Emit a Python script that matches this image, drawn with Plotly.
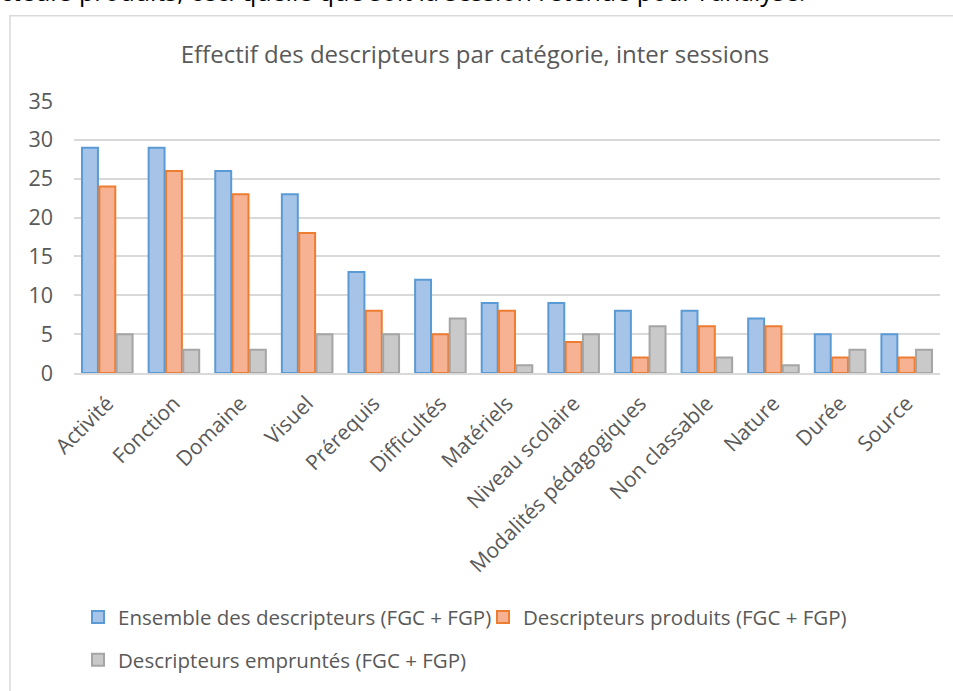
import plotly.graph_objects as go

categories = ["Activité", "Fonction", "Domaine", "Visuel", "Prérequis", "Difficultés",
              "Matériels", "Niveau scolaire", "Modalités pédagogiques", "Non classable",
              "Nature", "Durée", "Source"]
ensemble = [29, 29, 26, 23, 13, 12, 9, 9, 8, 8, 7, 5, 5]
produits = [24, 26, 23, 18, 8, 5, 8, 4, 2, 6, 6, 2, 2]
empruntes = [5, 3, 3, 5, 5, 7, 1, 5, 6, 2, 1, 3, 3]
y_ticks = [0, 5, 10, 15, 20, 25, 30, 35]

series_names = ["Ensemble des descripteurs (FGC + FGP)",
                "Descripteurs produits (FGC + FGP)",
                "Descripteurs empruntés (FGC + FGP)"]

FONT = "Open Sans"
GREY_TEXT = "#595959"
W, H = 953, 691
ML, MR, MT, MB = 74, 13, 101, 316
PW = W - ML - MR
PH = H - MT - MB

fig = go.Figure()
styles = [("#a6c3e8", "#5b9bd5", "legend"),
          ("#f6b293", "#ed7d31", "legend"),
          ("#c9c9c9", "#a5a5a5", "legend2")]
for name, vals, (fill, edge, leg) in zip(series_names, [ensemble, produits, empruntes], styles):
    fig.add_trace(go.Bar(
        x=categories, y=vals, name=name, legend=leg,
        marker=dict(color=fill, line=dict(color=edge, width=2)),
    ))

# chart frame
fig.add_shape(type="rect", xref="paper", yref="paper",
              x0=(10 - ML) / PW, x1=(W + 20 - ML) / PW,
              y0=-(H + 20 - MT - PH) / PH, y1=1 + (MT - 15) / PH,
              line=dict(color="#d9d9d9", width=1.5), fillcolor="rgba(0,0,0,0)", layer="below")

# running text above the chart
fig.add_annotation(
    text="cteurs produits, ceci quelle que soit la session retenue pour l'analyse.",
    xref="paper", yref="paper", x=(-2 - ML) / PW, y=1 + (MT - 9) / PH,
    xanchor="left", yanchor="bottom", showarrow=False,
    font=dict(family=FONT, size=25, color="#000000"),
)

fig.update_layout(
    width=W, height=H,
    margin=dict(l=ML, r=MR, t=MT, b=MB),
    paper_bgcolor="white", plot_bgcolor="white",
    title=dict(text="Effectif des descripteurs par catégorie, inter sessions",
               x=475 / W, xref="container", xanchor="center", y=1 - 55 / H, yanchor="middle",
               font=dict(family=FONT, size=24, color=GREY_TEXT)),
    barmode="group", bargap=0.22, bargroupgap=0.08,
    font=dict(family=FONT, color=GREY_TEXT),
    xaxis=dict(tickangle=-45, tickfont=dict(family=FONT, size=21, color=GREY_TEXT),
               showline=True, linecolor="#d9d9d9", linewidth=1.5,
               showgrid=False, ticks="", ticklabelstandoff=8),
    yaxis=dict(range=[0, 35], tickvals=y_ticks, tickfont=dict(family=FONT, size=21.5, color=GREY_TEXT),
               showgrid=True, gridcolor="#d9d9d9", gridwidth=1.5,
               zeroline=False, showline=False, ticks="", ticklabelstandoff=20),
    legend=dict(orientation="h", x=(78 - ML) / PW, xanchor="left",
                y=-(621 - MT - PH) / PH, yanchor="middle",
                font=dict(family=FONT, size=20.5, color=GREY_TEXT),
                entrywidth=360, entrywidthmode="pixels", itemwidth=30),
    legend2=dict(orientation="h", x=(78 - ML) / PW, xanchor="left",
                 y=-(664 - MT - PH) / PH, yanchor="middle",
                 font=dict(family=FONT, size=20.5, color=GREY_TEXT), itemwidth=30),
)

fig.write_html("out.html")
